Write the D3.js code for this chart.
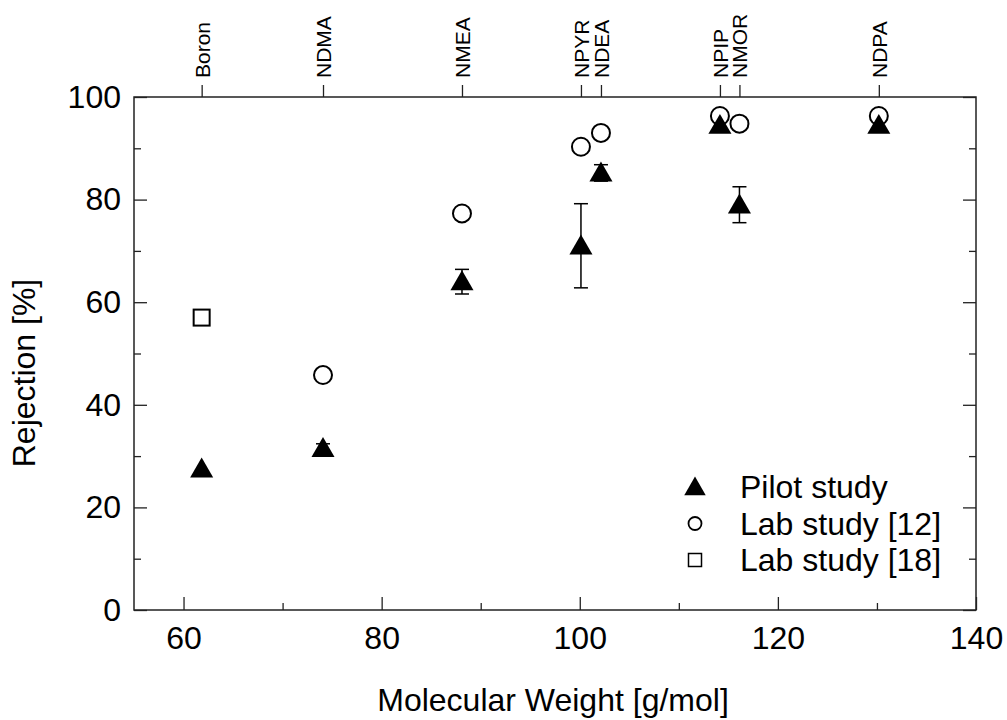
<!DOCTYPE html>
<html>
<head>
<meta charset="utf-8">
<script src="https://cdn.jsdelivr.net/npm/d3@7"></script>
<style>
  body { margin: 0; background: #fff; }
  text { font-family: Arial, "Liberation Sans", sans-serif; fill: #000; }
</style>
</head>
<body>
<div id="chart"></div>
<script>
// compounds shown on the top axis (molecular weight, g/mol)
const compounds = ["Boron", "NDMA", "NMEA", "NPYR", "NDEA", "NPIP", "NMOR", "NDPA"];
const mw = [61.83, 74.08, 88.11, 100.12, 102.14, 114.15, 116.12, 130.19];

// pilot study rejection [%] and error (+/-)
const pilot = [27.5, 31.5, 64, 71, 85.2, 94.5, 79, 94.5];
const pilotErr = [0, 0.9, 2.4, 8.2, 1.6, 0, 3.5, 0];

// lab study [12] (no boron value)
const lab12 = [null, 45.8, 77.3, 90.3, 93, 96.3, 94.8, 96.3];
// lab study [18] (boron only)
const lab18 = [57, null, null, null, null, null, null, null];

const xTicks = [60, 80, 100, 120, 140];
const yTicks = [0, 20, 40, 60, 80, 100];

const W = 1007, H = 720;
const mLeft = 134, mRight = 976, mTop = 97, mBottom = 610;

const svg = d3.select('#chart').append('svg')
    .attr('width', W)
    .attr('height', H);

const x = d3.scaleLinear().domain([55, 140]).range([mLeft, mRight]);
const y = d3.scaleLinear().domain([0, 100]).range([mBottom, mTop]);

// frame
svg.append('rect')
    .attr('x', mLeft).attr('y', mTop)
    .attr('width', mRight - mLeft).attr('height', mBottom - mTop)
    .attr('fill', 'none').attr('stroke', '#222').attr('stroke-width', 1.5);

// bottom axis: major ticks inward, minor at odd tens
svg.append('g')
    .attr('transform', 'translate(0,' + mBottom + ')')
    .call(d3.axisBottom(x).tickValues(d3.range(70, 140, 20)).tickSize(-7).tickFormat(''))
    .call(g => g.select('.domain').remove());
svg.append('g')
    .attr('class', 'xmajor')
    .attr('transform', 'translate(0,' + mBottom + ')')
    .call(d3.axisBottom(x).tickValues(xTicks).tickSize(-13).tickPadding(16))
    .call(g => g.select('.domain').remove());

// left axis
svg.append('g')
    .attr('transform', 'translate(' + mLeft + ',0)')
    .call(d3.axisLeft(y).tickValues(d3.range(10, 100, 20)).tickSize(-7).tickFormat(''))
    .call(g => g.select('.domain').remove());
svg.append('g')
    .attr('class', 'ymajor')
    .attr('transform', 'translate(' + mLeft + ',0)')
    .call(d3.axisLeft(y).tickValues(yTicks).tickSize(-13).tickPadding(13))
    .call(g => g.select('.domain').remove());

// right axis ticks, no labels
svg.append('g')
    .attr('transform', 'translate(' + mRight + ',0)')
    .call(d3.axisRight(y).tickValues(d3.range(10, 100, 20)).tickSize(-7).tickFormat(''))
    .call(g => g.select('.domain').remove());
svg.append('g')
    .attr('transform', 'translate(' + mRight + ',0)')
    .call(d3.axisRight(y).tickValues(yTicks).tickSize(-13).tickFormat(''))
    .call(g => g.select('.domain').remove());

// top axis with compound names
const topAxis = svg.append('g')
    .attr('transform', 'translate(0,' + mTop + ')')
    .call(d3.axisTop(x).tickValues(mw).tickSize(12).tickFormat((d, i) => compounds[i]))
    .call(g => g.select('.domain').remove());
topAxis.selectAll('text')
    .attr('transform', 'rotate(-90)')
    .attr('x', 19).attr('y', 0).attr('dy', '0.35em')
    .style('text-anchor', 'start')
    .style('font-size', '21px');

svg.selectAll('.tick line').attr('stroke', '#222').attr('stroke-width', 1.3);
svg.selectAll('.xmajor text, .ymajor text')
    .style('font-size', '32px')
    .style('font-family', 'Arial, "Liberation Sans", sans-serif');

// axis titles
svg.append('text')
    .attr('x', 553).attr('y', 711)
    .style('text-anchor', 'middle').style('font-size', '32px')
    .text('Molecular Weight [g/mol]');
svg.append('text')
    .attr('transform', 'translate(35,373) rotate(-90)')
    .style('text-anchor', 'middle').style('font-size', '32px')
    .text('Rejection [%]');

const tri = d3.symbol().type(d3.symbolTriangle);

// error bars for pilot study
const errData = mw.map((m, i) => ({ m, v: pilot[i], e: pilotErr[i] })).filter(d => d.e > 0);
const eb = svg.append('g').attr('stroke', '#000').attr('stroke-width', 1.5);
eb.selectAll('.ev').data(errData).enter().append('line')
    .attr('x1', d => x(d.m)).attr('x2', d => x(d.m))
    .attr('y1', d => y(d.v - d.e)).attr('y2', d => y(d.v + d.e));
eb.selectAll('.et').data(errData).enter().append('line')
    .attr('x1', d => x(d.m) - 7).attr('x2', d => x(d.m) + 7)
    .attr('y1', d => y(d.v + d.e)).attr('y2', d => y(d.v + d.e));
eb.selectAll('.eb').data(errData).enter().append('line')
    .attr('x1', d => x(d.m) - 7).attr('x2', d => x(d.m) + 7)
    .attr('y1', d => y(d.v - d.e)).attr('y2', d => y(d.v - d.e));

// lab study [12] circles
svg.append('g').selectAll('circle')
    .data(mw.map((m, i) => [m, lab12[i]]).filter(d => d[1] != null))
    .enter().append('circle')
    .attr('cx', d => x(d[0])).attr('cy', d => y(d[1]))
    .attr('r', 9)
    .attr('fill', '#fff').attr('stroke', '#000').attr('stroke-width', 2);

// lab study [18] squares
svg.append('g').selectAll('rect')
    .data(mw.map((m, i) => [m, lab18[i]]).filter(d => d[1] != null))
    .enter().append('rect')
    .attr('x', d => x(d[0]) - 8).attr('y', d => y(d[1]) - 8)
    .attr('width', 16).attr('height', 16)
    .attr('fill', '#fff').attr('stroke', '#000').attr('stroke-width', 2);

// pilot study triangles
svg.append('g').selectAll('path')
    .data(mw.map((m, i) => [m, pilot[i]]))
    .enter().append('path')
    .attr('d', tri.size(230))
    .attr('transform', d => 'translate(' + x(d[0]) + ',' + (y(d[1]) + 2) + ')')
    .attr('fill', '#000');

// legend
const legend = svg.append('g').attr('transform', 'translate(695,487)');
const rows = ['Pilot study', 'Lab study [12]', 'Lab study [18]'];
legend.selectAll('text').data(rows).enter().append('text')
    .attr('x', 45).attr('y', (d, i) => i * 36.5)
    .attr('dy', '0.35em')
    .style('font-size', '32px')
    .text(d => d);
legend.append('path').attr('d', d3.symbol().type(d3.symbolTriangle).size(200)())
    .attr('transform', 'translate(0,2)').attr('fill', '#000');
legend.append('circle').attr('cx', 0).attr('cy', 36.5).attr('r', 6.5)
    .attr('fill', '#fff').attr('stroke', '#000').attr('stroke-width', 1.8);
legend.append('rect').attr('x', -6.5).attr('y', 73 - 6.5).attr('width', 13).attr('height', 13)
    .attr('fill', '#fff').attr('stroke', '#000').attr('stroke-width', 1.5);
</script>
</body>
</html>
